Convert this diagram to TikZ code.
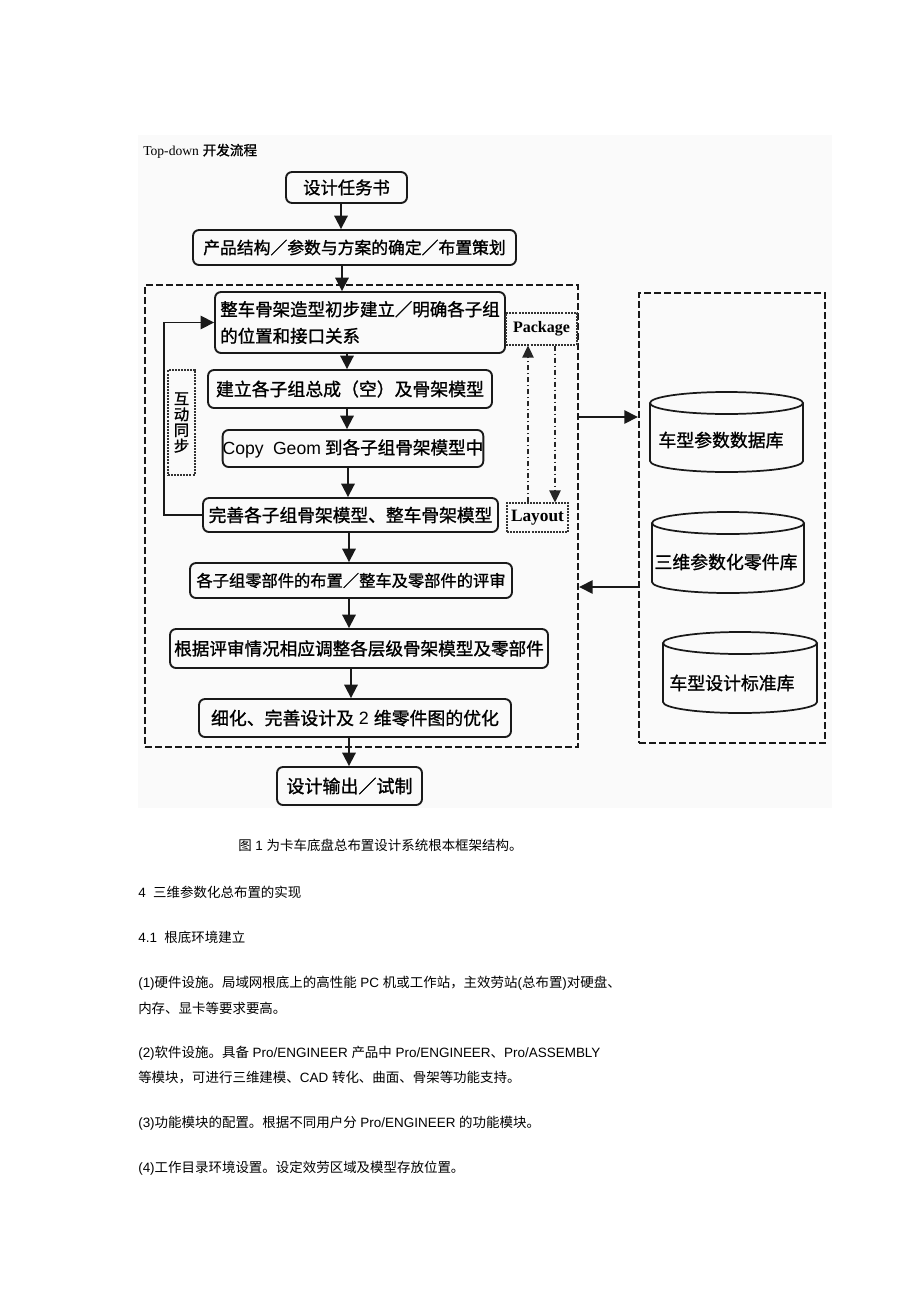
\documentclass[tikz,border=0pt]{standalone}
\usepackage{fontspec}
\setmainfont{Liberation Sans}
\newfontfamily\cjk{Noto Sans CJK SC}
\newfontfamily\cjkbold[FakeBold=1.2]{Noto Sans CJK SC}
\newfontfamily\serifA{Liberation Serif}
\newfontfamily\sansA{Liberation Sans}
\usetikzlibrary{arrows.meta,fit}
\newcommand\La[1]{{\sansA #1}}
\newcommand\bx[1]{\cjkbold\fontsize{#1}{20pt}\selectfont}
\begin{document}
\begin{tikzpicture}[x=0.75pt,y=-0.75pt,
 box/.style={draw=black!90, line width=1.4pt, rounded corners=4.5pt, inner sep=0pt},
 dbox/.style={draw=black!90, line width=1.8pt, dash pattern=on 5pt off 2.5pt, inner sep=0pt},
 dotbox/.style={draw=black!80, line width=0.8pt, dash pattern=on 1.5pt off 0.8pt, inner sep=0pt},
 arr/.style={draw=black!90, line width=1.4pt, -{Triangle[length=10pt,width=10pt]}},
 ddarr/.style={draw=black!85, line width=1pt, dash pattern=on 4pt off 2pt on 1pt off 2pt,
   -{Triangle[length=9pt,width=8.5pt]}},
 body/.style={anchor=west, inner sep=0pt, font=\cjk\fontsize{10.1pt}{12pt}\selectfont},
 cyl/.style={draw=black!90, line width=1.3pt},
 cyltext/.style={inner sep=0pt, font=\bx{13.4pt}},
 lbl/.style={inner sep=0pt, font=\serifA\bfseries\fontsize{12pt}{13pt}\selectfont},
]
\useasboundingbox (0,0) rectangle (920,1302);
\fill[white] (0,0) rectangle (920,1302);
\fill[black!2] (138,135) rectangle (832,808);

% title
\node[anchor=west, inner sep=0pt] (title) at (143,151)
  {{\serifA\fontsize{10.2pt}{12pt}\selectfont Top-down} {\cjkbold\fontsize{10.2pt}{12pt}\selectfont 开发流程}};

% dashed containers
\node[dbox, fit={(145,285)(578,747)}] (sys) {};
\node[dbox, fit={(639,293)(825,743)}] (dbs) {};

% flow boxes
\node[box, minimum width=90.75pt, minimum height=23.25pt, font=\bx{13pt}] (b1) at (346.5,187.5) {设计任务书};
\node[box, minimum width=242.25pt, minimum height=26.25pt, font=\bx{12.6pt}] (b2) at (354.5,247.5) {产品结构／参数与方案的确定／布置策划};
\node[box, minimum width=217.5pt, minimum height=45.75pt, font=\bx{13.1pt}, align=left] (b3) at (360,322.5) {整车骨架造型初步建立／明确各子组\\的位置和接口关系};
\node[box, minimum width=213pt, minimum height=28.5pt, font=\bx{13.4pt}] (b4) at (350,389) {建立各子组总成（空）及骨架模型};
\node[box, minimum width=195pt, minimum height=27.75pt, font=\bx{13.2pt}] (b5) at (353,448.5) {\La{Copy\hspace{0.25em} Geom} 到各子组骨架模型中};
\node[box, minimum width=221.25pt, minimum height=25.5pt, font=\bx{13.3pt}] (b6) at (350.5,515) {完善各子组骨架模型、整车骨架模型};
\node[box, minimum width=241.5pt, minimum height=26.25pt, font=\bx{12.2pt}] (b7) at (351,580.5) {各子组零部件的布置／整车及零部件的评审};
\node[box, minimum width=283.5pt, minimum height=29.25pt, font=\bx{13.2pt}] (b8) at (359,648.5) {根据评审情况相应调整各层级骨架模型及零部件};
\node[box, minimum width=234pt, minimum height=28.5pt, font=\bx{13.4pt}] (b9) at (355,718) {细化、完善设计及\La{ 2 }维零件图的优化};
\node[box, minimum width=108.75pt, minimum height=28.5pt, font=\bx{13.5pt}] (b10) at (349.5,786) {设计输出／试制};

% dotted side boxes
\node[dotbox, lbl, minimum width=53.25pt, minimum height=24pt] (pkg) at (541.5,329) {Package};
\node[dotbox, lbl, minimum width=45.75pt, minimum height=21.75pt, font=\serifA\bfseries\fontsize{13pt}{14pt}\selectfont] (lay) at (537.5,517.5) {Layout};
\node[dotbox, minimum width=20.25pt, minimum height=78.75pt, align=center,
  font=\cjkbold\fontsize{11.5pt}{11.8pt}\selectfont] (sync) at (181.5,422.5) {互\\动\\同\\步};

% main chain arrows
\coordinate (ax1) at (341,0);
\coordinate (ax2) at (342,0);
\coordinate (ax3) at (347,0);
\coordinate (ax4) at (348,0);
\coordinate (ax5) at (349,0);
\coordinate (ax6) at (351,0);
\draw[arr] (b1.south -| ax1) -- (b2.north -| ax1);
\draw[arr] (b2.south -| ax2) -- (b3.north -| ax2);
\draw[arr] (b3.south -| ax3) -- (b4.north -| ax3);
\draw[arr] (b4.south -| ax3) -- (b5.north -| ax3);
\draw[arr] (b5.south -| ax4) -- (b6.north -| ax4);
\draw[arr] (b6.south -| ax5) -- (b7.north -| ax5);
\draw[arr] (b7.south -| ax5) -- (b8.north -| ax5);
\draw[arr] (b8.south -| ax6) -- (b9.north -| ax6);
\draw[arr] (b9.south -| ax5) -- (b10.north -| ax5);

% feedback loop
\coordinate (fx) at (164,0);
\draw[arr, line width=1.2pt] (b6.west) -- (b6.west -| fx) -- (b3.west -| fx) -- (b3.west);

% package / layout arrows
\coordinate (pu) at (528,0);
\coordinate (pd) at (555,0);
\draw[ddarr] (lay.north -| pu) -- (pkg.south -| pu);
\draw[ddarr] (pkg.south -| pd) -- (lay.north -| pd);

% system <-> database arrows
\coordinate (yy1) at (0,417);
\coordinate (yy2) at (0,587);
\draw[arr, line width=1.1pt] (sys.east |- yy1) -- (dbs.west |- yy1);
\draw[arr, line width=1.1pt] (dbs.west |- yy2) -- (sys.east |- yy2);

% cylinders
\draw[cyl] (726.5,403) ellipse [x radius=57.4pt, y radius=8.25pt];
\draw[cyl] (650,403) -- (650,461) arc[start angle=180, end angle=360, x radius=57.4pt, y radius=8.25pt] -- (803,403);
\node[cyltext] (c1) at (721,440) {车型参数数据库};

\draw[cyl] (728,523) ellipse [x radius=57pt, y radius=8.25pt];
\draw[cyl] (652,523) -- (652,582) arc[start angle=180, end angle=360, x radius=57pt, y radius=8.25pt] -- (804,523);
\node[cyltext] (c2) at (726,562) {三维参数化零件库};

\draw[cyl] (740,643) ellipse [x radius=57.75pt, y radius=8.25pt];
\draw[cyl] (663,643) -- (663,702) arc[start angle=180, end angle=360, x radius=57.75pt, y radius=8.25pt] -- (817,643);
\node[cyltext] (c3) at (732,683) {车型设计标准库};

% body text
\node[body] (t0) at (238,845) {图\La{ 1 }为卡车底盘总布置设计系统根本框架结构。};
\node[body] (t1) at (138,892) {\La{4\ \ }三维参数化总布置的实现};
\node[body] (t2) at (138,937) {\La{4.1\ \ }根底环境建立};
\node[body] (t3) at (138,983) {\La{(1)}硬件设施。局域网根底上的高性能\La{ PC }机或工作站，主效劳站\La{(}总布置\La{)}对硬盘、};
\node[body] (t4) at (138,1008) {内存、显卡等要求要高。};
\node[body] (t5) at (138,1053) {\La{(2)}软件设施。具备\La{ Pro/ENGINEER }产品中\La{ Pro/ENGINEER}、\La{Pro/ASSEMBLY}};
\node[body] (t6) at (138,1078) {等模块，可进行三维建模、\La{CAD }转化、曲面、骨架等功能支持。};
\node[body] (t7) at (138,1123) {\La{(3)}功能模块的配置。根据不同用户分\La{ Pro/ENGINEER }的功能模块。};
\node[body] (t8) at (138,1168) {\La{(4)}工作目录环境设置。设定效劳区域及模型存放位置。};
\end{tikzpicture}
\end{document}
